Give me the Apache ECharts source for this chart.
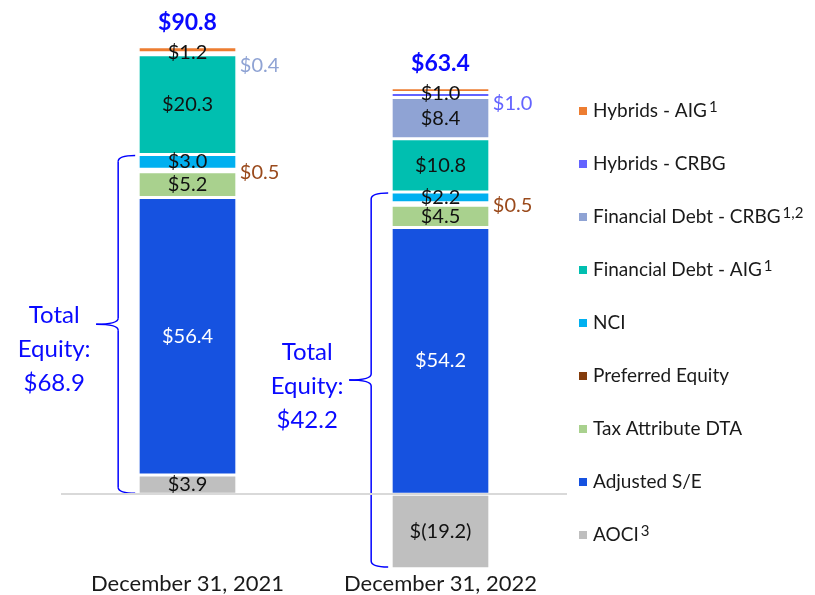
<!DOCTYPE html>
<html>
<head>
<meta charset="utf-8">
<title>Capital structure</title>
<script src="https://cdn.jsdelivr.net/npm/echarts@6/dist/echarts.min.js"></script>
<style>
  html, body { margin: 0; padding: 0; background: #fff; }
  #main { width: 815px; height: 595px; }
</style>
</head>
<body>
<div id="main"></div>
<script>
const categories = ['December 31, 2021', 'December 31, 2022'];

// segments, from the bottom of the stack up
const aoci = [3.9, -19.2];
const adjustedSE = [56.4, 54.2];
const taxDTA = [5.2, 4.5];
const preferredEquity = [0.5, 0.5];
const nci = [3.0, 2.2];
const finDebtAIG = [20.3, 10.8];
const finDebtCRBG = [0.4, 8.4];
const hybridsCRBG = [0, 1.0];
const hybridsAIG = [1.2, 1.0];

const totals = [90.8, 63.4];
const totalEquity = [68.9, 42.2];

const FONT = 'Lato, "Noto Sans", sans-serif';
const Y_MIN = -15;
const Y_MAX = 100;
const BAR_W = 0.39;

const seriesDefs = [
  { name: 'AOCI', sup: '3', data: aoci, color: '#bfbfbf', equity: true },
  { name: 'Adjusted S/E', data: adjustedSE, color: '#1652e0', labelColor: '#fff', equity: true },
  { name: 'Tax Attribute DTA', data: taxDTA, color: '#a9d18e', equity: true },
  { name: 'Preferred Equity', data: preferredEquity, color: '#843c0c', outColor: '#9a4a1c', outDy: 2, equity: true },
  { name: 'NCI', data: nci, color: '#00b0f0', equity: true },
  { name: 'Financial Debt - AIG', sup: '1', data: finDebtAIG, color: '#00bfb0' },
  { name: 'Financial Debt - CRBG', sup: '1,2', data: finDebtCRBG, color: '#8fa3d4', outDy: 12 },
  { name: 'Hybrids - CRBG', data: hybridsCRBG, color: '#6363ff', outDy: 9 },
  { name: 'Hybrids - AIG', sup: '1', data: hybridsAIG, color: '#ed7d31', top: true }
];

const fmt = v => v < 0 ? '$(' + (-v).toFixed(1) + ')' : '$' + v.toFixed(1);

let chartDom = document.getElementById('main');
let myChart = echarts.init(chartDom);

let series = seriesDefs.map(function (d, si) {
  return {
    name: d.name,
    type: 'bar',
    stack: 'total',
    barWidth: BAR_W * 100 + '%',
    itemStyle: { color: d.color, borderColor: '#fff', borderWidth: 1.5 },
    label: {
      show: true,
      position: 'inside',
      fontFamily: FONT,
      fontSize: 20,
      color: d.labelColor || '#111',
      offset: d.top ? [0, 3] : [0, 0],
      formatter: p => fmt(p.value)
    },
    data: d.data.map(function (v) {
      const item = { value: v };
      if (v === 0) {
        item.label = { show: false };
      } else if (!d.top && Math.abs(v) < 1.1) {
        // thin slices get their label beside the bar
        item.label = { position: 'right', distance: 3, offset: [0, d.outDy || 6], color: d.outColor || d.color };
      }
      return item;
    }),
    markLine: si === 0 ? {
      silent: true,
      symbol: 'none',
      label: { show: false },
      lineStyle: { color: '#d9d9d9', width: 2, type: 'solid' },
      data: [{ yAxis: 0 }]
    } : undefined
  };
});

// zero-height bar on top of the stack carries the total
series.push({
  name: 'Total',
  type: 'bar',
  stack: 'total',
  barWidth: BAR_W * 100 + '%',
  itemStyle: { color: 'rgba(0,0,0,0)' },
  label: {
    show: true,
    position: 'top',
    distance: 13,
    fontFamily: FONT,
    fontSize: 23,
    fontWeight: 'bold',
    color: '#0a0aff',
    formatter: p => '$' + totals[p.dataIndex].toFixed(1)
  },
  data: categories.map(() => 0)
});

let option = {
  backgroundColor: '#fff',
  animation: false,
  grid: { left: 61, right: 248, top: 2, bottom: 25 },
  legend: {
    orient: 'vertical',
    left: 572,
    top: 95,
    itemGap: 31,
    itemWidth: 10,
    itemHeight: 10,
    icon: 'rect',
    data: seriesDefs.slice().reverse().map(d => d.name),
    formatter: function (name) {
      const d = seriesDefs.find(s => s.name === name);
      return d.sup ? name + '{s|' + d.sup + '}' : name;
    },
    textStyle: {
      fontFamily: FONT,
      fontSize: 19,
      lineHeight: 22,
      color: '#1a1a1a',
      rich: {
        s: { fontFamily: FONT, fontSize: 15, lineHeight: 8, verticalAlign: 'top', padding: [0, 0, 0, 2], color: '#1a1a1a' }
      }
    }
  },
  xAxis: {
    type: 'category',
    data: categories,
    axisLine: { show: false, onZero: false },
    axisTick: { show: false },
    axisLabel: { fontFamily: FONT, fontSize: 22, color: '#1a1a1a', margin: 5 }
  },
  yAxis: {
    type: 'value',
    min: Y_MIN,
    max: Y_MAX,
    show: false,
    splitLine: { show: false }
  },
  series: series
};

option && myChart.setOption(option);

// "Total Equity" braces, placed from the equity slices of each bar
const braceTextShift = [25, 6];
function drawBraces() {
  const elements = [];
  const p0 = myChart.convertToPixel({ gridIndex: 0 }, [0, 0]);
  const p1 = myChart.convertToPixel({ gridIndex: 0 }, [1, 0]);
  const halfBar = (p1[0] - p0[0]) * BAR_W / 2;
  const stroke = { stroke: '#0000ff', lineWidth: 1.5, fill: null };
  categories.forEach(function (c, i) {
    let topVal = 0;
    let botVal = 0;
    seriesDefs.filter(d => d.equity).forEach(function (d) {
      if (d.data[i] > 0) topVal += d.data[i];
      else botVal += d.data[i];
    });
    botVal = Math.max(botVal, Y_MIN);
    const pt = myChart.convertToPixel({ gridIndex: 0 }, [i, topVal]);
    const pb = myChart.convertToPixel({ gridIndex: 0 }, [i, botVal]);
    const xr = pt[0] - halfBar - 3;
    const xv = xr - 17;
    const xt = xv - 22;
    const yt = pt[1] + 1;
    const yb = pb[1] - 1;
    const ym = (yt + yb) / 2;
    const r = 6;
    const curves = [
      [xr, yt, xv, yt + r, xv, yt],
      [xv, ym - r, xt, ym, xv, ym],
      [xt, ym, xv, ym + r, xv, ym],
      [xv, yb - r, xr, yb, xv, yb]
    ];
    curves.forEach(function (q) {
      elements.push({
        type: 'bezierCurve',
        silent: true,
        shape: { x1: q[0], y1: q[1], x2: q[2], y2: q[3], cpx1: q[4], cpy1: q[5] },
        style: stroke
      });
    });
    [[yt + r, ym - r], [ym + r, yb - r]].forEach(function (s) {
      elements.push({
        type: 'line',
        silent: true,
        shape: { x1: xv, y1: s[0], x2: xv, y2: s[1] },
        style: stroke
      });
    });
    elements.push({
      type: 'text',
      x: xt - 42,
      y: ym + braceTextShift[i],
      silent: true,
      style: {
        text: 'Total\nEquity:\n$' + totalEquity[i].toFixed(1),
        align: 'center',
        verticalAlign: 'middle',
        fontFamily: FONT,
        fontSize: 24,
        lineHeight: 34,
        fill: '#0a0aff'
      }
    });
  });
  myChart.setOption({ graphic: { elements: elements } });
}
drawBraces();

window.addEventListener('resize', () => {
  myChart.resize();
  drawBraces();
});
</script>
</body>
</html>
